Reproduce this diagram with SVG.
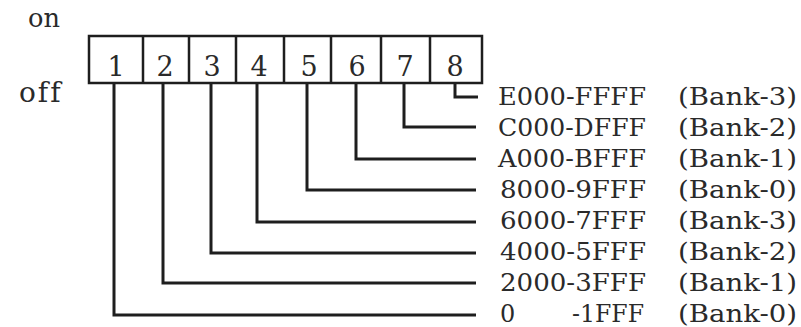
<svg xmlns="http://www.w3.org/2000/svg" width="801" height="327" viewBox="0 0 801 327">
<style>
.t{font-family:"DejaVu Serif","Liberation Serif",serif;fill:#2a2a2a;font-variant-ligatures:none}
.lbl{font-size:24px}
.num{font-size:27px;text-anchor:middle}
.ln{fill:none;stroke:#1e1e1e;stroke-width:3;stroke-linejoin:miter;stroke-linecap:butt}
.box{fill:none;stroke:#1e1e1e;stroke-width:2.5}
</style>
<rect width="801" height="327" fill="#fff"/>
<g id="state-labels">
<text class="t" x="28" y="27" font-size="26" textLength="32" lengthAdjust="spacingAndGlyphs">on</text>
<text class="t" x="19" y="102" font-size="28" letter-spacing="2">off</text>
</g>
<g id="switch">
<rect class="box" x="89" y="36" width="393" height="47"/>
<path class="box" d="M143 36V83M189 36V83M236 36V83M284 36V83M331 36V83M381 36V83M430 36V83"/>
<text class="t num" x="116" y="76">1</text>
<text class="t num" x="165" y="76">2</text>
<text class="t num" x="212" y="76">3</text>
<text class="t num" x="259" y="76">4</text>
<text class="t num" x="309" y="76">5</text>
<text class="t num" x="357" y="76">6</text>
<text class="t num" x="405" y="76">7</text>
<text class="t num" x="455" y="76">8</text>
</g>
<g id="connectors">
<path class="ln" d="M455 84V97H478"/>
<path class="ln" d="M404 84V127H476"/>
<path class="ln" d="M356 84V159H476"/>
<path class="ln" d="M307 84V190H476"/>
<path class="ln" d="M257 84V222H476"/>
<path class="ln" d="M211 84V253H476"/>
<path class="ln" d="M163 84V283H476"/>
<path class="ln" d="M114 84V315H476"/>
</g>
<g id="row-E000"><text class="t lbl" x="498" y="105" textLength="148" lengthAdjust="spacingAndGlyphs">E000-FFFF</text><text class="t lbl" x="678" y="105" textLength="119" lengthAdjust="spacingAndGlyphs">(Bank-3)</text></g>
<g id="row-C000"><text class="t lbl" x="498" y="136" textLength="148" lengthAdjust="spacingAndGlyphs">C000-DFFF</text><text class="t lbl" x="678" y="136" textLength="119" lengthAdjust="spacingAndGlyphs">(Bank-2)</text></g>
<g id="row-A000"><text class="t lbl" x="498" y="167" textLength="148" lengthAdjust="spacingAndGlyphs">A000-BFFF</text><text class="t lbl" x="678" y="167" textLength="119" lengthAdjust="spacingAndGlyphs">(Bank-1)</text></g>
<g id="row-8000"><text class="t lbl" x="500" y="198" textLength="146" lengthAdjust="spacingAndGlyphs">8000-9FFF</text><text class="t lbl" x="678" y="198" textLength="119" lengthAdjust="spacingAndGlyphs">(Bank-0)</text></g>
<g id="row-6000"><text class="t lbl" x="500" y="229" textLength="146" lengthAdjust="spacingAndGlyphs">6000-7FFF</text><text class="t lbl" x="678" y="229" textLength="119" lengthAdjust="spacingAndGlyphs">(Bank-3)</text></g>
<g id="row-4000"><text class="t lbl" x="500" y="260" textLength="146" lengthAdjust="spacingAndGlyphs">4000-5FFF</text><text class="t lbl" x="678" y="260" textLength="119" lengthAdjust="spacingAndGlyphs">(Bank-2)</text></g>
<g id="row-2000"><text class="t lbl" x="500" y="291" textLength="146" lengthAdjust="spacingAndGlyphs">2000-3FFF</text><text class="t lbl" x="678" y="291" textLength="119" lengthAdjust="spacingAndGlyphs">(Bank-1)</text></g>
<g id="row-0000"><text class="t lbl" x="500" y="322">0</text><text class="t lbl" x="572" y="322" textLength="72" lengthAdjust="spacingAndGlyphs">-1FFF</text><text class="t lbl" x="678" y="322" textLength="119" lengthAdjust="spacingAndGlyphs">(Bank-0)</text></g>
</svg>
